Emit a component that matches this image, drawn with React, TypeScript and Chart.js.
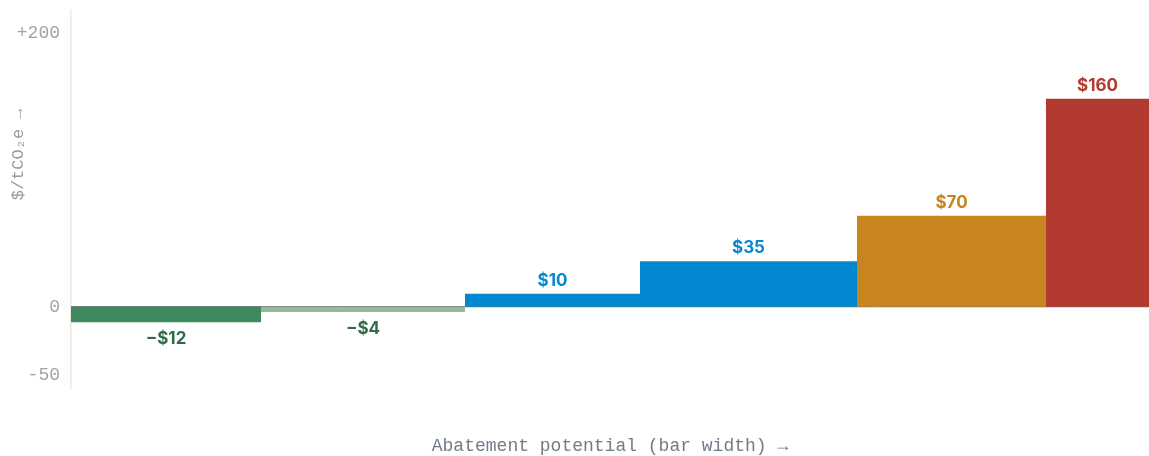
import React, { useEffect, useRef } from "react";
import { Chart, registerables } from "chart.js";

Chart.register(...registerables);

// ---- Data ----
const measures = ["Measure A", "Measure B", "Measure C", "Measure D", "Measure E", "Measure F"];
const costs = [-12, -4, 10, 35, 70, 160]; // $/tCO2e
const potentials = [19, 20.4, 17.5, 21.7, 18.9, 10.3]; // abatement potential (bar width)
const barColors = ["#3e8a5e", "#93bb9b", "#0288d1", "#0288d1", "#c8841f", "#b23a30"];
const labelColors = ["#2f6b4b", "#2f6b4b", "#0a88cf", "#0a88cf", "#c8841f", "#b23a30"];
const yTickValues = [-50, 0, 200];
const yTickLabels = ["-50", "0", "+200"];
const xTitle = "Abatement potential (bar width) \u2192";
const yTitle = "$/tCO\u2082e \u2192";

const MONO = "'Liberation Mono', 'DejaVu Sans Mono', monospace";
const SANS = "Inter, 'Noto Sans', sans-serif";

export default function App() {
  const ref = useRef<HTMLCanvasElement | null>(null);

  useEffect(() => {
    if (!ref.current) return;

    const starts: number[] = [];
    let acc = 0;
    potentials.forEach((w) => {
      starts.push(acc);
      acc += w;
    });
    const total = acc;

    const datasets = costs.map((c, i) => ({
      type: "line" as const,
      label: measures[i],
      data: [
        { x: starts[i], y: c },
        { x: starts[i] + potentials[i], y: c },
      ],
      xAxisID: "x",
      yAxisID: "y",
      fill: "origin" as const,
      backgroundColor: barColors[i],
      borderColor: barColors[i],
      borderWidth: 0,
      pointRadius: 0,
      tension: 0,
    }));

    const zeroLine = {
      id: "zeroLine",
      beforeDatasetsDraw(chart: any) {
        const { ctx, chartArea } = chart;
        const y0 = chart.scales.y.getPixelForValue(0);
        ctx.save();
        ctx.strokeStyle = "#555555";
        ctx.lineWidth = 1;
        ctx.beginPath();
        ctx.moveTo(chartArea.left, y0);
        ctx.lineTo(chartArea.right, y0);
        ctx.stroke();
        ctx.restore();
      },
    };

    const barLabels = {
      id: "barLabels",
      afterDatasetsDraw(chart: any) {
        const { ctx } = chart;
        const xs = chart.scales.x;
        const ys = chart.scales.y;
        ctx.save();
        ctx.font = `700 17px ${SANS}`;
        ctx.textAlign = "center";
        ctx.textBaseline = "middle";
        costs.forEach((c, i) => {
          const cx = xs.getPixelForValue(starts[i] + potentials[i] / 2);
          const py = ys.getPixelForValue(c);
          const ty = c >= 0 ? py - 13 : py + 17;
          const txt = c < 0 ? `\u2212$${Math.abs(c)}` : `$${c}`;
          ctx.fillStyle = labelColors[i];
          ctx.fillText(txt, cx, ty);
        });
        ctx.restore();
      },
    };

    const yTitlePlugin = {
      id: "yTitle",
      afterDraw(chart: any) {
        const { ctx, chartArea } = chart;
        const cy = chartArea.top + (chartArea.bottom - chartArea.top) * 0.382;
        ctx.save();
        ctx.translate(18, cy);
        ctx.rotate(-Math.PI / 2);
        ctx.font = `17px ${MONO}`;
        ctx.fillStyle = "#9a9a9a";
        ctx.textAlign = "center";
        ctx.textBaseline = "middle";
        ctx.fillText(yTitle, 0, 0);
        ctx.restore();
      },
    };

    const chart = new Chart(ref.current, {
      type: "line",
      data: { datasets: datasets as any },
      options: {
        animation: false,
        responsive: true,
        maintainAspectRatio: false,
        layout: { padding: { top: 10, left: 0, right: 0, bottom: 0 } },
        plugins: {
          legend: { display: false },
          tooltip: { enabled: false },
        },
        scales: {
          x: {
            type: "linear",
            min: 0,
            max: total,
            ticks: { display: false },
            grid: { display: false, drawTicks: false },
            border: { display: false },
            title: {
              display: true,
              text: xTitle,
              color: "#737b87",
              font: { family: MONO, size: 18 },
              padding: { top: 0, bottom: -1 },
            },
            afterFit(s: any) {
              s.height = 68;
              s.paddingLeft = 0;
              s.paddingRight = 0;
            },
          },
          y: {
            type: "linear",
            display: false,
            min: -62.5,
            max: 228.2,
          },
          yt: {
            type: "linear",
            position: "left",
            min: -59.3,
            max: 216.6,
            afterBuildTicks(s: any) {
              s.ticks = yTickValues.map((v) => ({ value: v }));
            },
            ticks: {
              padding: 11,
              color: "#a3a3a3",
              font: { family: MONO, size: 18 },
              callback: (v: any) => {
                const idx = yTickValues.indexOf(Number(v));
                return idx >= 0 ? yTickLabels[idx] : "";
              },
            },
            grid: { display: false, drawTicks: false },
            border: { display: true, color: "#ece8e3", width: 1.5 },
            afterFit(s: any) {
              s.width = 71;
              s.paddingTop = 0;
              s.paddingBottom = 0;
            },
          },
        },
      },
      plugins: [zeroLine, barLabels, yTitlePlugin],
    });

    return () => chart.destroy();
  }, []);

  return (
    <div style={{ position: "fixed", left: 0, top: 0, width: 1149, height: 456, background: "#ffffff" }}>
      <canvas ref={ref} />
    </div>
  );
}
